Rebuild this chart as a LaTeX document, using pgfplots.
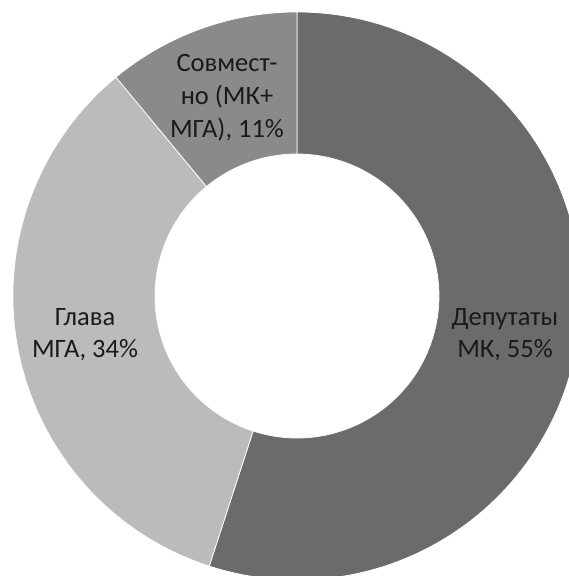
\documentclass[border=0pt]{standalone}
\usepackage{pgfplots}
\pgfplotsset{compat=1.18}
\usepackage{pgfplotstable}
\usetikzlibrary{calc}
\usepackage{fontspec}
\setmainfont{Carlito}
\definecolor{cDep}{HTML}{6B6B6B}
\definecolor{cGl}{HTML}{BBBBBB}
\definecolor{cSov}{HTML}{8A8A8A}
\definecolor{cTxt}{HTML}{1A1A1A}

% shares of the donut, clockwise from 12 o'clock
\pgfplotstableread{
share
55
34
11
}\donutdata

\newcommand\sector[3]{% start angle, end angle, colour
  \fill[#3, draw=white, line width=0.75pt]
    ($(axis cs:\cx,\cy)+(#1:\Ro pt)$) arc[start angle=#1, end angle=#2, radius=\Ro pt]
    -- ($(axis cs:\cx,\cy)+(#2:\Ri pt)$) arc[start angle=#2, end angle=#1, radius=\Ri pt]
    -- cycle;}

\begin{document}%
\begin{tikzpicture}
\pgfplotstablegetelem{0}{share}\of\donutdata\let\vA\pgfplotsretval
\pgfplotstablegetelem{1}{share}\of\donutdata\let\vB\pgfplotsretval
\pgfplotstablegetelem{2}{share}\of\donutdata\let\vC\pgfplotsretval
\pgfmathsetmacro\aA{90}
\pgfmathsetmacro\aB{\aA-3.6*\vA}
\pgfmathsetmacro\aC{\aB-3.6*\vB}
\pgfmathsetmacro\aD{\aC-3.6*\vC}
\def\cx{297}\def\cy{280}\def\Ro{284}\def\Ri{142}
\begin{axis}[width=569pt,height=576pt,scale only axis,
  xmin=0,xmax=569,ymin=0,ymax=576,hide axis,clip=true,
  anchor=south west, at={(0,0)}]
\sector{\aA}{\aB}{cDep}
\sector{\aB}{\aC}{cGl}
\sector{\aC}{\aD}{cSov}
\begin{scope}[every node/.style={anchor=base, text=cTxt, inner sep=0pt,
    font=\fontsize{26.5}{32}\selectfont}]
\node at (axis cs:227,504) {Совмест-};
\node at (axis cs:227,471) {но (МК+};
\node at (axis cs:227,438) {МГА), 11\%};
\node at (axis cs:85,250) {Глава};
\node at (axis cs:85,218) {МГА, 34\%};
\node at (axis cs:505,250) {Депутаты};
\node at (axis cs:505,218) {МК, 55\%};
\end{scope}
\end{axis}
\pgfresetboundingbox
\path (0,0) rectangle (569pt,576pt);
\end{tikzpicture}%
\end{document}
